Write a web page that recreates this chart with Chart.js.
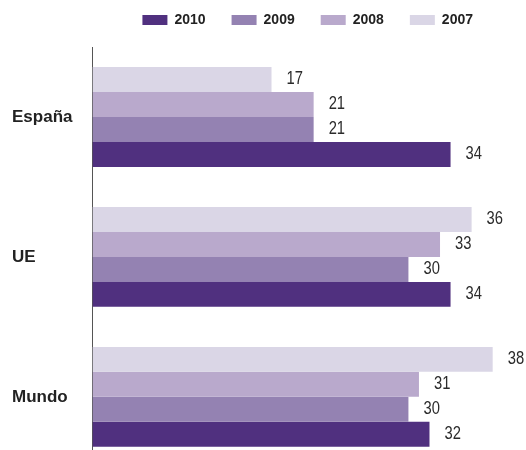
<!DOCTYPE html>
<html>
<head>
<meta charset="utf-8">
<script src="https://cdn.jsdelivr.net/npm/chart.js@4.4.1/dist/chart.umd.min.js"></script>
<style>
  html, body { margin: 0; padding: 0; background: #fff; overflow: hidden; }
  #wrap { width: 526px; height: 450px; overflow: hidden; }
</style>
</head>
<body>
<div id="wrap"><canvas id="myChart" width="526" height="487"></canvas></div>
<script>
const categories = ["España", "UE", "Mundo"];
const years = ["2007", "2008", "2009", "2010"];
const values2007 = [17, 36, 38];
const values2008 = [21, 33, 31];
const values2009 = [21, 30, 30];
const values2010 = [34, 34, 32];
const colors = ["#dad6e6", "#b9a9cc", "#9482b2", "#50307f"];

const sans = "'Liberation Sans', Arial, sans-serif";

const ctx = document.getElementById("myChart");

// numbers next to the bars, squeezed a bit to look like a narrow face
const valueLabels = {
  id: "valueLabels",
  afterDatasetsDraw(chart) {
    const c = chart.ctx;
    chart.data.datasets.forEach((ds, i) => {
      chart.getDatasetMeta(i).data.forEach((bar, j) => {
        c.save();
        c.font = "18px " + sans;
        c.fillStyle = "#2b2b2b";
        c.textAlign = "left";
        c.textBaseline = "middle";
        c.translate(bar.x + 15, bar.y);
        c.scale(0.82, 1);
        c.fillText(ds.data[j], 0, 0);
        c.restore();
      });
    });
  },
};

const allValues = [values2007, values2008, values2009, values2010];

new Chart(ctx, {
  type: "bar",
  data: {
    labels: categories,
    datasets: years.map((y, i) => ({
      label: y,
      data: allValues[i],
      backgroundColor: colors[i],
      borderWidth: 0,
      categoryPercentage: 0.714,
      barPercentage: 1,
    })),
  },
  options: {
    indexAxis: "y",
    responsive: false,
    maintainAspectRatio: false,
    animation: false,
    layout: {
      padding: { top: -13, left: 12, right: 27, bottom: 0 },
    },
    plugins: {
      legend: {
        position: "top",
        align: "end",
        reverse: true,
        labels: {
          boxWidth: 25,
          boxHeight: 10,
          padding: 26,
          color: "#222",
          font: { family: sans, size: 14, weight: "bold" },
        },
      },
      title: {
        display: true,
        text: "",
        weight: 500,
        font: { size: 1, lineHeight: 1 },
        padding: { top: 0, bottom: 9 },
      },
      tooltip: { enabled: false },
    },
    scales: {
      x: {
        display: false,
        min: 0,
        max: 38.6,
      },
      y: {
        grid: { display: false, drawTicks: false },
        border: { display: true, color: "#555", width: 1 },
        ticks: {
          crossAlign: "far",
          padding: 10,
          color: "#222",
          font: { family: sans, size: 17, weight: "bold" },
        },
      },
    },
  },
  plugins: [valueLabels],
});
</script>
</body>
</html>
